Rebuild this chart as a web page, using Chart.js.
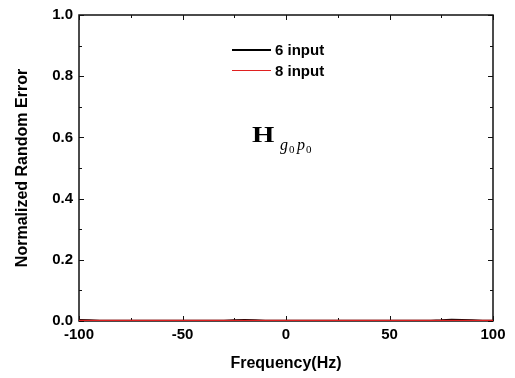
<!DOCTYPE html>
<html>
<head>
<meta charset="utf-8">
<script src="https://cdn.jsdelivr.net/npm/chart.js@4"></script>
<style>
  html, body { margin: 0; padding: 0; background: #fff; }
  #wrap { width: 515px; height: 378px; position: relative; }
</style>
</head>
<body>
<div id="wrap"><canvas id="chart"></canvas></div>
<script>
// Frequency axis (Hz)
const freq = [-100, -95, -90, -85, -80, -75, -70, -65, -60, -55, -50, -45, -40, -35, -30, -25, -20, -15, -10, -5,
  0, 5, 10, 15, 20, 25, 30, 35, 40, 45, 50, 55, 60, 65, 70, 75, 80, 85, 90, 95, 100];
// Normalized random error, 6 input
const err6 = [0.004, 0.003, 0.002, 0.002, 0.002, 0.002, 0.002, 0.002, 0.002, 0.002, 0.002, 0.002, 0.002, 0.002, 0.002, 0.003, 0.004, 0.003, 0.002, 0.002,
  0.002, 0.002, 0.002, 0.002, 0.002, 0.002, 0.002, 0.002, 0.002, 0.002, 0.002, 0.002, 0.002, 0.002, 0.002, 0.003, 0.005, 0.004, 0.003, 0.002, 0.002];
// Normalized random error, 8 input
const err8 = [0.001, 0.001, 0.001, 0.001, 0.001, 0.001, 0.001, 0.001, 0.001, 0.001, 0.001, 0.001, 0.001, 0.001, 0.001, 0.001, 0.001, 0.001, 0.001, 0.001,
  0.001, 0.001, 0.001, 0.001, 0.001, 0.001, 0.001, 0.001, 0.001, 0.001, 0.001, 0.001, 0.001, 0.001, 0.001, 0.001, 0.001, 0.001, 0.001, 0.001, 0.001];

const legendItems = ['6 input', '8 input'];
const lineColors = ['#000000', '#e02020'];

const FONT = 'Liberation Sans, Arial, sans-serif';
const SERIF = '"Liberation Serif", "DejaVu Serif", serif';

// box frame and inward ticks on all four sides, under the lines
const framePlugin = {
  id: 'frame',
  beforeDatasetsDraw(chart) {
    const ctx = chart.ctx;
    const a = chart.chartArea;
    const xs = chart.scales.x, ys = chart.scales.y;
    ctx.save();
    ctx.strokeStyle = '#111';
    ctx.lineWidth = 1.5;
    ctx.strokeRect(a.left, a.top, a.right - a.left, a.bottom - a.top);

    ctx.lineWidth = 1;
    xs.ticks.forEach(t => {
      const px = Math.round(xs.getPixelForValue(t.value)) + 0.5;
      const len = t.value % 50 === 0 ? 5 : 3;
      ctx.beginPath();
      ctx.moveTo(px, a.bottom); ctx.lineTo(px, a.bottom - len);
      ctx.moveTo(px, a.top); ctx.lineTo(px, a.top + len);
      ctx.stroke();
    });
    ys.ticks.forEach(t => {
      const py = Math.round(ys.getPixelForValue(t.value)) + 0.5;
      const major = Math.round(t.value * 10) % 2 === 0;
      const len = major ? 5 : 3;
      ctx.beginPath();
      ctx.moveTo(a.left, py); ctx.lineTo(a.left + len, py);
      ctx.moveTo(a.right, py); ctx.lineTo(a.right - len, py);
      ctx.stroke();
    });
    ctx.restore();
  },
  // legend and H annotation
  afterDraw(chart) {
    const ctx = chart.ctx;
    ctx.save();
    ctx.font = 'bold 15px ' + FONT;
    ctx.textBaseline = 'middle';
    ctx.textAlign = 'left';
    legendItems.forEach((label, i) => {
      const y = 50 + i * 21;
      ctx.fillStyle = lineColors[i];
      ctx.fillRect(232, y - 1, 39, i === 0 ? 2 : 1);
      ctx.fillStyle = '#000';
      ctx.fillText(label, 275, y + 1);
    });

    ctx.fillStyle = '#000';
    ctx.textBaseline = 'alphabetic';
    ctx.save();
    ctx.translate(252, 142);
    ctx.scale(1.25, 1);
    ctx.font = 'bold 23px ' + SERIF;
    ctx.fillText('H', 0, 0);
    ctx.restore();
    ctx.font = 'italic 16px ' + SERIF;
    ctx.fillText('g', 280, 150);
    ctx.fillText('p', 297, 150);
    ctx.font = '11px ' + SERIF;
    ctx.fillText('0', 289, 153);
    ctx.fillText('0', 306, 153);
    ctx.restore();
  }
};

new Chart(document.getElementById('chart'), {
  type: 'line',
  data: {
    labels: freq,
    datasets: [
      {
        label: legendItems[1],
        data: freq.map((f, i) => ({ x: f, y: err8[i] })),
        borderColor: lineColors[1],
        borderWidth: 2,
        pointRadius: 0,
        tension: 0,
        order: 0
      },
      {
        label: legendItems[0],
        data: freq.map((f, i) => ({ x: f, y: err6[i] })),
        borderColor: lineColors[0],
        borderWidth: 1.5,
        pointRadius: 0,
        tension: 0,
        order: 1
      }
    ]
  },
  options: {
    responsive: true,
    maintainAspectRatio: false,
    animation: false,
    layout: { padding: { top: 13, right: 22, left: 0, bottom: 0 } },
    plugins: {
      legend: { display: false },
      tooltip: { enabled: false }
    },
    scales: {
      x: {
        type: 'linear',
        min: -100,
        max: 100,
        ticks: {
          stepSize: 25,
          autoSkip: false,
          maxRotation: 0,
          padding: 5,
          color: '#000',
          font: { family: FONT, size: 15, weight: 'bold' },
          callback: v => (v % 50 === 0 ? String(v) : '')
        },
        grid: { display: false, drawTicks: false },
        border: { display: false },
        title: {
          display: true,
          text: 'Frequency(Hz)',
          color: '#000',
          font: { family: FONT, size: 16, weight: 'bold' },
          padding: { top: 0, bottom: 5 }
        },
        afterFit(scale) { scale.height = 57; }
      },
      y: {
        min: 0,
        max: 1,
        ticks: {
          stepSize: 0.1,
          autoSkip: false,
          padding: 6,
          color: '#000',
          font: { family: FONT, size: 15, weight: 'bold' },
          callback: v => (Math.round(v * 10) % 2 === 0 ? v.toFixed(1) : '')
        },
        grid: { display: false, drawTicks: false },
        border: { display: false },
        title: {
          display: true,
          text: 'Normalized Random Error',
          color: '#000',
          font: { family: FONT, size: 16, weight: 'bold' },
          padding: { top: 13, bottom: 0 }
        },
        afterFit(scale) { scale.width = 79; }
      }
    }
  },
  plugins: [framePlugin]
});
</script>
</body>
</html>
